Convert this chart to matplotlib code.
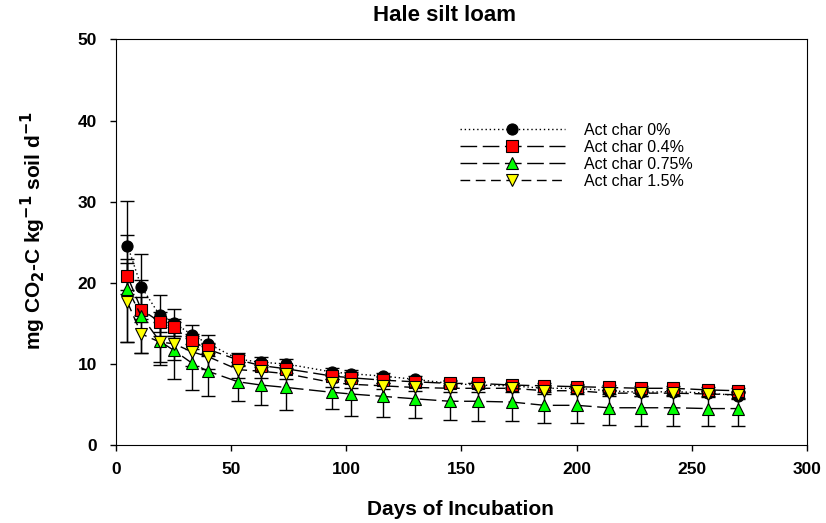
import matplotlib
matplotlib.use("Agg")
import matplotlib.pyplot as plt
import numpy as np

plt.rcParams['font.family'] = ['Liberation Sans', 'DejaVu Sans']

days = [5, 11, 19, 25, 33, 40, 53, 63, 74, 94, 102, 116, 130, 145, 157, 172, 186, 200, 214, 228, 242, 257, 270]

char0 = [24.6, 19.5, 16.0, 15.1, 13.6, 12.5, 10.6, 10.2, 10.0, 9.0, 8.8, 8.5, 8.1, 7.6, 7.4, 7.3, 7.0, 7.0, 6.7, 6.5, 6.6, 6.4, 6.1]
char0_err = [5.5, 4.0, 2.5, 1.7, 1.2, 1.1, 0.8, 0.6, 0.6, 0.5, 0.5, 0.4, 0.4, 0.4, 0.4, 0.4, 0.4, 0.4, 0.4, 0.4, 0.4, 0.4, 0.4]

char04 = [20.8, 16.7, 15.2, 14.5, 12.8, 11.8, 10.5, 9.8, 9.4, 8.5, 8.3, 8.0, 7.8, 7.6, 7.6, 7.4, 7.3, 7.2, 7.1, 7.0, 7.0, 6.8, 6.7]
char04_err = [2.2, 1.5, 1.2, 1.0, 0.9, 0.8, 0.6, 0.5, 0.5, 0.4, 0.4, 0.4, 0.3, 0.3, 0.3, 0.3, 0.3, 0.3, 0.3, 0.3, 0.3, 0.3, 0.3]

char075 = [19.3, 15.9, 12.8, 11.7, 10.1, 9.1, 7.8, 7.4, 7.1, 6.5, 6.3, 6.0, 5.7, 5.4, 5.4, 5.3, 4.9, 4.9, 4.6, 4.6, 4.6, 4.5, 4.5]
char075_err = [6.6, 4.5, 2.9, 3.5, 3.3, 3.1, 2.4, 2.5, 2.8, 2.1, 2.7, 2.5, 2.4, 2.3, 2.4, 2.3, 2.2, 2.2, 2.1, 2.2, 2.2, 2.2, 2.2]

char15 = [17.6, 13.7, 12.7, 12.5, 11.5, 10.9, 9.3, 9.1, 8.8, 7.7, 7.5, 7.3, 7.1, 7.0, 7.0, 7.0, 6.7, 6.7, 6.4, 6.4, 6.4, 6.3, 6.2]
char15_err = [4.9, 2.3, 2.5, 2.0, 1.7, 1.5, 1.0, 0.8, 0.7, 0.5, 0.5, 0.4, 0.4, 0.4, 0.4, 0.4, 0.4, 0.4, 0.4, 0.4, 0.4, 0.4, 0.4]

labels = ["Act char 0%", "Act char 0.4%", "Act char 0.75%", "Act char 1.5%"]

fig = plt.figure(figsize=(8.26, 5.23), dpi=100)
ax = fig.add_axes([0.1404, 0.149, 0.977 - 0.1404, 0.9245 - 0.149])

series = [
    (char0, char0_err, 'o', 'black', (0, (1, 2))),
    (char04, char04_err, 's', '#ff0000', (0, (12, 4))),
    (char075, char075_err, '^', '#00ff00', (0, (12, 4))),
    (char15, char15_err, 'v', '#ffff00', (0, (7, 4))),
]

handles = []
for (vals, err, mk, col, ls), lab in zip(series, labels):
    ax.errorbar(days, vals, yerr=err, fmt='none', ecolor='black',
                elinewidth=1.0, capsize=5, capthick=1.0, zorder=2)
    ln, = ax.plot(days, vals, linestyle=ls, color='black', linewidth=1.0,
                  marker=mk, markersize=8, markerfacecolor=col,
                  markeredgecolor='black', markeredgewidth=0.8, label=lab, zorder=3)
    handles.append(ln)

ax.set_xlim(0, 300)
ax.set_ylim(0, 50)
ax.set_xticks(np.arange(0, 301, 50))
ax.set_yticks(np.arange(0, 51, 10))
ax.tick_params(direction='out', length=4.5, width=1, labelsize=12.5)
ax.tick_params(axis='y', pad=9)
ax.tick_params(axis='x', pad=8)
for lbl in ax.get_xticklabels() + ax.get_yticklabels():
    lbl.set_fontweight('bold')

ax.text(0.476, 1.06, "Hale silt loam", transform=ax.transAxes, ha='center', va='center',
        fontsize=16, fontweight='bold')
ax.set_xlabel("Days of Incubation", fontsize=15, fontweight='bold')
ax.xaxis.set_label_coords(0.498, -0.16)
ax.xaxis.label.set_va('center')
ax.set_ylabel(r"mg CO$_\mathbf{2}$-C kg$^\mathbf{-1}$ soil d$^\mathbf{-1}$", fontsize=15,
              fontweight='bold')
ax.yaxis.set_label_coords(-0.12, 0.53)
ax.yaxis.label.set_va('center')

ax.legend(handles=handles, loc='upper left', bbox_to_anchor=(0.488, 0.81),
          frameon=False, fontsize=11.5, handlelength=6.6, handletextpad=1.2,
          labelspacing=0.12, borderaxespad=0)

fig.savefig("out.png", dpi=100)
